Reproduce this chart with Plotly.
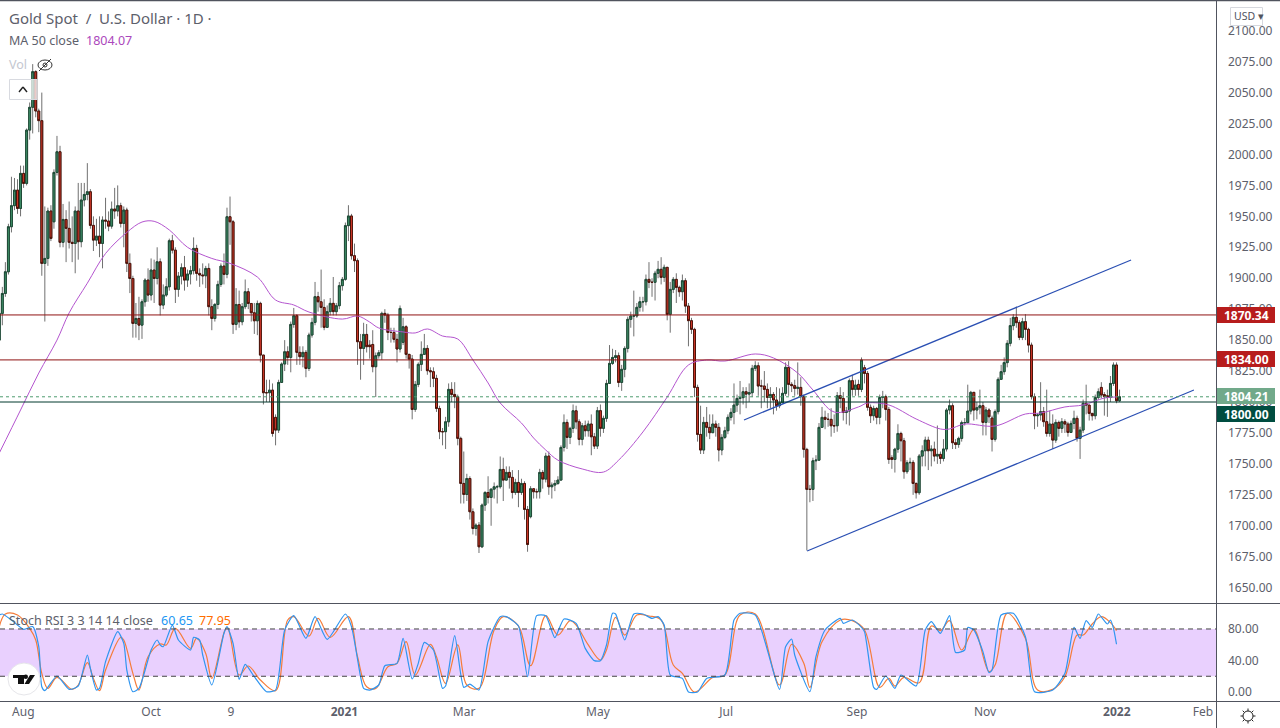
import math
import plotly.graph_objects as go

# ---- price bars
opens = [
1850,1871.6,1887.7,1905.2,1941.6,1958.6,1971.2,1956.4,1984.7,1976.6,
2019.7,2038.1,2066.9,2035.1,2027.3,1912,1916,1954.3,1945.6,1985.5,
2002.2,1929,1947.5,1940.3,1929,1928.1,1954.3,1929.5,1963.2,1967.7,
1969.9,1942.7,1930.8,1934,1928.1,1947,1946.2,1942.1,1955.9,1954.3,
1958.6,1944.3,1955.1,1912,1899.8,1863.5,1867.5,1862.1,1881,1898.5,
1886.4,1906.6,1899.8,1913.3,1878.3,1886.4,1893.1,1930.3,1922.7,1891,
1901.7,1908.5,1898.5,1903.4,1906.1,1924.1,1903.9,1902.6,1902,1907.9,
1877,1867.5,1878.8,1895,1909.8,1903.1,1949.7,1945.6,1862.7,1878.8,
1864.8,1877,1889.1,1879.6,1872.1,1865.6,1879.7,1837.9,1807.5,1807.5,
1809.6,1787.6,1777.3,1815.8,1830.7,1840.6,1836,1862.7,1869.7,1840.1,
1836.6,1840.1,1827.1,1854.1,1864.3,1885.1,1881,1876.4,1860.3,1873,
1879.7,1873,1877.8,1894,1899.1,1942.5,1950.3,1918.2,1914.2,1848.7,
1843.3,1854.6,1846,1846.5,1828.5,1837.4,1839.8,1871.6,1870.3,1856.2,
1856.2,1850.6,1842.8,1848.2,1860.8,1838.5,1834.7,1794,1814.2,
1830.4,1838.5,1843.3,1825.3,1824.5,1819.1,1794.8,1776,1776,1784,
1810.2,1806.1,1804.3,1770.6,1734.2,1725.3,1738.2,1711.3,1697.8,1700.5,
1683,1716.7,1726.9,1722.9,1729.6,1731.5,1731.5,1745.5,1736.9,1743.1,
1739.1,1726.9,1735,1726.9,1734.2,1713.2,1707.3,1729.9,1727.5,
1727.5,1743.1,1737.7,1756.3,1731.5,1732.9,1734.2,1736.9,1763.3,1783.5,
1771.4,1778.7,1792.9,1784,1769.8,1780.8,1776.8,1782.2,1771.9,1764.4,
1793,1778.7,1786.8,1815,1831.2,1836,1837.4,1815.8,1826.4,1843.3,
1866.8,1869.5,1869.5,1876.5,1881,1881,1899.1,1896.7,1896.7,1904,
1907.2,1900.7,1908.8,1870.8,1891,1899.1,1892.6,1889.1,1898,1877.5,
1865.7,1858.7,1811.8,1773.8,1761.2,1783.5,1779.5,1775.2,1782.2,
1779.5,1761.2,1771.4,1776.8,1787.6,1791.6,1797.5,1802.9,1803.5,1808.3,
1806.4,1807.5,1827.2,1829.3,1812.9,1812.9,1810.2,1803.7,1806.1,1801.6,
1797,1799.4,1807,1828,1814.2,1813.2,1811,1811.8,1804.3,1761.7,
1729.4,1729.4,1752.5,1753,1779.5,1787.6,1786,1786,1780.8,1780.8,
1805.1,1802.9,1791.6,1792.7,1817.2,1810.2,1814.2,1810.2,1827.7,
1823.1,1795.7,1788.9,1794.8,1787.6,1803.7,1804.3,1794,1755,1753.6,
1761.9,1774.6,1768.7,1743.7,1750.9,1751.2,1734.2,1726.7,1756.3,1760.6,
1769.2,1760.6,1762,1756.3,1757.7,1754.4,1762,1793.5,1797,1767.1,
1765.7,1770.6,1783.3,1783.3,1792.7,1807.8,1793.5,1795.4,1797,1783.5,
1793.5,1787,1769.8,1792.2,1818.3,1824.5,1831.8,1847.4,1861.7,1868.4,
1864.1,1852.2,1864.9,1858.7,1846,1804.3,1788.9,1789.5,1792.2,
1784.1,1774.6,1782.2,1769.2,1783.5,1778.7,1784.1,1782.2,1775.4,1782.7,
1786.8,1770.6,1777.3,1798.9,1797.5,1790.8,1788.9,1803.7,1811.8,1806,
1805,1803.7,1815,1829.9,1801,
]
closes = [
1871.6,1887.7,1905.2,1941.6,1958.6,1971.2,1956.4,1984.7,1976.6,2019.7,
2038.1,2066.9,2035.1,2027.3,1912,1916,1954.3,1932.2,1985.5,2002.2,
1929,1947.5,1940.3,1929,1928.1,1954.3,1929.5,1963.2,1967.7,1969.9,
1942.7,1930.8,1934,1928.1,1947,1946.2,1942.1,1955.9,1954.3,1958.6,
1944.3,1955.1,1912,1899.8,1863.5,1867.5,1862.1,1881,1898.5,1886.4,
1906.6,1899.8,1913.3,1878.3,1886.4,1893.1,1930.3,1922.7,1891,1901.7,
1908.5,1898.5,1903.4,1906.1,1924.1,1903.9,1902.6,1902,1907.9,1877,
1867.5,1878.8,1895,1909.8,1903.1,1949.7,1945.6,1862.7,1878.8,1864.8,
1877,1889.1,1879.6,1872.1,1865.6,1879.6,1837.9,1807.5,1807.5,1809.6,
1774.6,1777.3,1815.8,1830.7,1840.6,1836,1862.7,1869.7,1840.1,1836.6,
1840.1,1827.1,1854.1,1864.3,1885.1,1881,1876.4,1860.3,1873,1879.7,
1873,1877.8,1894,1899.1,1942.5,1950.3,1918.2,1914.2,1848.7,1843.3,
1854.6,1844.7,1844.7,1828.5,1837.4,1839.8,1871.6,1870.3,1856.2,1856.2,
1850.6,1842.8,1875.6,1860.8,1838.5,1834.7,1794,1814.2,1830.4,
1838.5,1843.3,1825.3,1824.5,1819.1,1794.8,1776,1776,1784,1810.2,
1806.1,1804.3,1770.6,1734.2,1725.3,1738.2,1711.3,1697.8,1700.5,1683,
1716.7,1726.9,1722.9,1729.6,1731.5,1731.5,1745.5,1736.9,1743.1,1739.1,
1726.9,1735,1726.9,1734.2,1713.2,1684.9,1729.9,1727.5,1727.5,
1743.1,1737.7,1756.3,1731.5,1732.9,1734.2,1736.9,1763.3,1783.5,1771.4,
1778.7,1792.9,1784,1769.8,1780.8,1776.8,1782.2,1771.9,1764.4,1793,
1778.7,1786.8,1815,1831.2,1836,1837.4,1815.8,1826.4,1843.3,1866.8,
1869.5,1869.5,1876.5,1881,1881,1899.1,1896.7,1896.7,1904,1907.2,
1900.7,1908.8,1870.8,1891,1899.1,1892.6,1889.1,1898,1877.5,1865.7,
1858.7,1811.8,1773.8,1761.2,1783.5,1779.5,1775.2,1782.2,1779.5,
1761.2,1771.4,1776.8,1787.6,1791.6,1797.5,1802.9,1803.5,1808.3,1806.4,
1807.5,1827.2,1829.3,1812.9,1812.9,1810.2,1803.7,1806.1,1801.6,1797,
1799.4,1807,1828,1814.2,1813.2,1811,1811.8,1804.3,1761.7,1729.4,
1729.4,1752.5,1753,1779.5,1787.6,1786,1786,1780.8,1780.8,1805.1,
1802.9,1791.6,1792.7,1817.2,1810.2,1813.7,1810.2,1833.9,1823.1,
1795.7,1788.9,1794.8,1787.6,1803.7,1804.3,1794,1753.6,1753.6,1761.9,
1774.6,1768.7,1743.7,1750.9,1751.2,1734.2,1726.7,1756.3,1760.6,1769.2,
1760.6,1762,1756.3,1757.7,1754.4,1762,1793.5,1797,1767.1,1765.7,
1770.6,1783.3,1783.3,1792.7,1807.8,1793.5,1795.4,1797,1783.5,1793.5,
1788.1,1769.8,1792.2,1818.3,1824.5,1831.8,1847.4,1861.7,1868.4,1864.1,
1852.2,1864.9,1858.7,1846,1804.3,1788.9,1789.5,1792.2,1784.1,
1774.6,1782.2,1769.2,1783.5,1778.7,1784.1,1782.2,1775.4,1782.7,1786.8,
1770.6,1777.3,1798.9,1797.5,1790.8,1788.9,1803.7,1808.3,1805.6,1804.3,
1803.7,1815,1829.9,1801,1804.2,
]
highs = [
1876,1893,1913,1944,1982,1981,1980,1991,1991,2021,
2042,2073,2068,2037,2050,1958,1957,1959,1988,2015,
2007,1960,1955,1962,1950,1958,1977,1977,1977,1993,
1972,1950,1948,1950,1950,1965,1954,1962,1973,1975,
1961,1958,1957,1920,1902,1880,1885,1883,1900,1908,
1916,1915,1925,1916,1895,1900,1932,1935,1925,1905,
1912,1918,1907,1910,1933,1927,1908,1912,1910,1912,
1883,1880,1898,1912,1920,1957,1966,1947,1892,1890,
1880,1899,1892,1880,1880,1882,1881,1838,1818,1818,
1815,1790,1818,1832,1850,1845,1865,1876,1871,1845,
1845,1842,1856,1868,1897,1889,1907,1883,1878,1884,
1901,1880,1897,1901,1945,1959,1952,1928,1916,1855,
1864,1863,1850,1858,1840,1842,1873,1875,1872,1860,
1860,1855,1878,1868,1862,1838,1838,1817,1832,
1849,1855,1846,1828,1828,1822,1797,1779,1788,1815,
1816,1816,1806,1772,1760,1742,1740,1714,1702,1703,
1718,1728,1740,1730,1735,1733,1756,1755,1748,1748,
1745,1738,1745,1738,1736,1716,1732,1730,1730,
1746,1745,1759,1760,1735,1737,1740,1765,1790,1786,
1780,1798,1797,1786,1783,1785,1785,1790,1775,1796,
1798,1789,1818,1846,1843,1842,1840,1830,1845,1869,
1873,1890,1880,1885,1885,1903,1913,1900,1906,1914,
1917,1911,1896,1897,1901,1904,1894,1903,1900,1880,
1868,1860,1814,1797,1788,1796,1790,1790,1785,
1783,1774,1780,1790,1795,1815,1806,1817,1812,1812,
1815,1830,1833,1832,1818,1825,1815,1812,1808,1812,
1811,1812,1832,1833,1816,1818,1832,1820,1806,1763,
1733,1755,1757,1783,1796,1793,1791,1795,1790,1808,
1812,1808,1796,1819,1822,1818,1818,1836,1830,
1825,1798,1797,1796,1806,1809,1806,1796,1757,1763,
1782,1776,1771,1753,1755,1753,1735,1758,1765,1772,
1772,1765,1768,1781,1760,1770,1795,1802,1799,1770,
1772,1785,1787,1814,1809,1808,1800,1810,1800,1796,
1795,1789,1794,1820,1830,1836,1850,1868,1871,1877,
1866,1868,1871,1860,1848,1807,1791,1816,1796,
1810,1793,1790,1786,1785,1787,1786,1784,1785,1793,
1789,1780,1802,1814,1793,1791,1806,1811,1816,1808,
1810,1821,1832,1832,1810,
]
lows = [
1845,1862,1885,1903,1937,1955,1952,1950,1973,1975,
2012,2017,2030,2018,1902,1865,1910,1930,1940,1983,
1925,1925,1913,1924,1913,1904,1915,1925,1958,1963,
1940,1922,1926,1917,1908,1940,1938,1940,1948,1950,
1941,1925,1905,1888,1852,1852,1850,1851,1877,1881,
1882,1880,1895,1870,1875,1885,1890,1920,1880,1885,
1895,1890,1893,1895,1903,1898,1893,1895,1892,1870,
1858,1865,1875,1893,1895,1900,1927,1855,1858,1860,
1862,1875,1875,1865,1855,1854,1832,1798,1800,1800,
1772,1765,1775,1823,1825,1830,1824,1860,1830,1830,
1828,1820,1825,1852,1862,1873,1860,1858,1862,1870,
1870,1870,1875,1890,1898,1930,1915,1905,1830,1818,
1830,1840,1835,1824,1804,1835,1834,1864,1850,1848,
1848,1832,1840,1846,1835,1827,1786,1792,1812,
1825,1838,1822,1812,1812,1792,1770,1765,1762,1780,
1800,1795,1765,1718,1718,1720,1705,1693,1692,1678,
1682,1712,1718,1700,1722,1718,1730,1720,1738,1730,
1722,1725,1715,1725,1705,1679,1706,1722,1722,
1722,1730,1735,1725,1722,1728,1733,1760,1760,1762,
1766,1775,1778,1765,1765,1772,1772,1757,1762,1762,
1772,1775,1784,1828,1830,1832,1812,1809,1820,1840,
1860,1853,1868,1873,1873,1878,1892,1885,1882,1900,
1895,1897,1866,1856,1888,1880,1885,1882,1872,1845,
1855,1804,1768,1758,1758,1772,1770,1778,1772,
1752,1757,1770,1774,1785,1782,1792,1790,1798,1795,
1800,1804,1825,1805,1795,1800,1795,1795,1790,1793,
1795,1800,1805,1805,1808,1805,1806,1797,1755,1680,
1719,1720,1745,1775,1780,1778,1780,1772,1775,1776,
1795,1785,1782,1781,1805,1805,1805,1808,1815,
1793,1783,1785,1782,1782,1795,1785,1750,1746,1743,
1759,1752,1738,1742,1745,1725,1722,1725,1748,1748,
1745,1748,1752,1750,1750,1752,1760,1790,1762,1762,
1763,1768,1781,1785,1790,1785,1786,1790,1773,1773,
1783,1760,1768,1790,1820,1822,1828,1845,1858,1860,
1850,1850,1850,1840,1802,1778,1780,1785,1780,
1772,1772,1762,1767,1772,1775,1775,1772,1775,1778,
1768,1754,1775,1790,1785,1785,1786,1802,1803,1789,
1788,1800,1813,1799,1800,
]

# ---- MA 50 close, (bar number, value)
ma_bars = [0,7,13,19,23,29,35,42,47,51,56,62,70,76,85,91,97,102,113,118,122,125,133,137,141,146,151,156,161,165,172,176,180,184,192,199,204,212,220,227,233,239,249,255,263,268,275,283,286,293,302,310,313,318,328,338,343,351,357,364,368]
ma_vals = [1758.8,1793.5,1823.4,1850,1872,1896,1920,1937,1945.4,1946,1939,1925,1916,1912,1901,1882.4,1878.4,1872.7,1867,1869.5,1864.6,1859.8,1856.6,1855.8,1859,1853.3,1850.9,1834,1815.4,1799.2,1783,1770.9,1761.2,1753,1745.9,1743.4,1753,1775.8,1804,1829.9,1833.9,1833.1,1838.8,1835.6,1823.4,1809.7,1791.9,1796,1799.2,1797.6,1786.3,1778.2,1778.2,1782.2,1780.6,1790.3,1791.1,1796,1797.6,1803.2,1804.1]

# ---- Stoch RSI, k = blue, d = orange
k_bars = [0,1,4,8,11,13,14,15,19,23,26,29,30,32,33,35,39,41,42,44,46,50,52,53,54,57,59,63,64,66,67,70,74,75,77,79,81,84,88,91,94,97,101,104,108,114,116,119,120,122,125,127,131,133,136,138,140,143,146,147,150,153,155,158,161,165,167,171,174,177,180,183,186,190,193,196,198,200,202,203,206,209,212,215,217,219,221,225,227,230,233,239,242,244,249,257,259,261,262,267,269,272,277,278,281,284,285,288,289,292,295,297,302,305,307,310,313,315,318,319,321,324,326,327,330,334,338,341,347,351,354,356,358,360,362,365,366,367,368]
k_vals = [97.7,99,91.4,79.5,83,57.5,6.7,1.7,20.3,3.4,7.6,47,30,2.5,4.6,38.5,76.6,61.8,27.9,0.4,4.6,53.3,66,59.7,57.5,85,66,53.3,69.4,66,47,8.9,74.5,83,61.8,16,35,19.4,0.4,2.5,78.7,96.9,68,95.6,66.8,99,83,19.4,4.6,2.5,8.9,33.4,36.4,68,16.5,36.4,63,53.3,4.6,7.6,71.5,5.9,10.1,2.5,63.9,95.6,95.6,83.8,19.4,96.9,96.9,69,92.7,87.2,55.4,39.8,39.8,59.7,99.9,99,66,99,99,93.5,95.6,85,21.6,17.3,0,0,17.3,21.6,91.4,99.9,97.7,3.4,57.5,67.3,47,0.4,44.8,78.7,93.5,87.2,91.4,82,76.6,5.9,3.4,20.3,4.6,21.6,7.6,78.7,89.3,74.5,96.9,50.3,53.3,82,78.7,51.2,24.5,27.9,97.7,99.9,70.2,0.4,2.5,23.7,82,68,90.6,82,99,86.3,91.4,80.8,60.65]
d_bars = [0,2,6,10,12,14,16,19,24,26,29,31,33,35,40,41,44,46,49,53,55,58,63,65,68,70,75,79,82,86,91,95,97,102,105,109,115,118,121,124,128,131,134,137,142,144,147,151,154,158,163,166,171,175,180,184,188,190,194,198,200,203,206,210,214,218,222,225,229,235,239,244,249,257,261,265,267,271,277,281,285,290,293,295,298,303,307,310,313,317,321,326,328,332,338,342,347,351,355,357,360,363,366,368]
d_vals = [83,99,97.7,80.8,66,23.7,4.6,18.6,3.4,8.9,37.2,17.3,1.7,27.9,69.4,66,23.7,2.5,44.8,60.9,59.7,80.8,55.4,68,49,17.3,82,21.6,33,15.2,1.7,91.4,95.6,71,93.5,69.4,95.6,44.8,6.7,4.6,32,36.4,63.9,21.6,60.5,44.8,11,59.7,8.9,4.6,78.7,95.6,83.8,33.4,96.9,72.3,90.6,85,59.7,40.6,53.3,94.8,72.3,97.7,96.5,91.4,34.3,23.7,0,18.6,21.6,97.7,99,8.9,60.5,36.4,5.9,63.9,91.4,90.6,78.7,5.9,17.3,7.6,18.6,11.8,83.8,77.9,90.6,53.3,79.5,25.8,34.3,99.9,68,2.5,3.4,19.4,72.3,72.3,86.3,95.6,88,77.95]

# ---- trend channel
upper_bars = [245.3, 372.8]
upper_vals = [1785.5, 1914.7]
lower_bars = [266.1, 393.5]
lower_vals = [1679.6, 1809.7]

# ---- axis
tick_pos = [7.9, 50, 76.3, 113.7, 153.1, 197.2, 239.4, 282.5, 324.7, 368.1, 396.5]
tick_txt = ['Aug', 'Oct', '9', '<b>2021</b>', 'Mar', 'May', 'Jul', 'Sep', 'Nov', '<b>2022</b>', 'Feb']
price_ticks = list(range(1650, 2125, 25))
stoch_ticks = [0, 40, 80]

FONT = 'Noto Sans'
TXT = '#5d606b'

bars = list(range(len(closes)))
body_top = [max(o, c) for o, c in zip(opens, closes)]
body_bot = [min(o, c) for o, c in zip(opens, closes)]
print(len(opens), len(closes), len(highs), len(lows))

W, H = 1217, 701
def px(x):
    return x / W
def py(y):
    return (H - y) / H

fig = go.Figure()

# wicks
fig.add_trace(go.Candlestick(x=bars, open=opens, high=highs, low=lows, close=closes,
                             increasing=dict(line=dict(color='#707070', width=1), fillcolor='#707070'),
                             decreasing=dict(line=dict(color='#707070', width=1), fillcolor='#707070'),
                             whiskerwidth=0, hoverinfo='skip', showlegend=False))
# bodies
fig.add_trace(go.Candlestick(x=bars, open=opens, high=body_top, low=body_bot, close=closes,
                             increasing=dict(line=dict(color='#1d4a36', width=1), fillcolor='#3f8f68'),
                             decreasing=dict(line=dict(color='#4a1208', width=1), fillcolor='#d6392a'),
                             whiskerwidth=0, hoverinfo='skip', showlegend=False))
fig.add_trace(go.Scatter(x=ma_bars, y=ma_vals, mode='lines',
                         line=dict(color='#b455cf', width=1, shape='spline'), hoverinfo='skip', showlegend=False))
fig.add_trace(go.Scatter(x=upper_bars, y=upper_vals, mode='lines',
                         line=dict(color='#2a4fb3', width=1.2), hoverinfo='skip', showlegend=False))
fig.add_trace(go.Scatter(x=lower_bars, y=lower_vals, mode='lines',
                         line=dict(color='#2a4fb3', width=1.2), hoverinfo='skip', showlegend=False))
fig.add_trace(go.Scatter(x=d_bars, y=d_vals, mode='lines', xaxis='x2', yaxis='y2',
                         line=dict(color='#f57c3a', width=1.2, shape='spline'), hoverinfo='skip', showlegend=False))
fig.add_trace(go.Scatter(x=k_bars, y=k_vals, mode='lines', xaxis='x2', yaxis='y2',
                         line=dict(color='#2f95f0', width=1.2, shape='spline', smoothing=0.6), hoverinfo='skip', showlegend=False))

shapes = []
def hline(val, color, dash='solid'):
    shapes.append(dict(type='line', xref='paper', yref='y', x0=0, x1=1, y0=val, y1=val,
                       line=dict(color=color, width=1, dash=dash)))
hline(1870.34, '#8f1212')
hline(1834, '#8f1212')
hline(1804.21, '#4f9c70', 'dot')
hline(1800, '#00382c')

# stoch band
shapes.append(dict(type='rect', xref='paper', yref='y2', x0=0, x1=1, y0=20, y1=80,
                   fillcolor='#e9d0fe', line=dict(width=0), layer='below'))
for v in [20, 80]:
    shapes.append(dict(type='line', xref='paper', yref='y2', x0=0, x1=1, y0=v, y1=v,
                       line=dict(color='#444444', width=1, dash='5px,4px')))

# frame
def frame(x0, y0, x1, y1, color='#50535e', width=1):
    shapes.append(dict(type='line', xref='paper', yref='paper', x0=px(x0), x1=px(x1), y0=py(y0), y1=py(y1),
                       line=dict(color=color, width=width)))
frame(0, 0.5, 1280, 0.5, width=1.5)
frame(0, 603.5, 1280, 603.5)
frame(0, 701.5, 1280, 701.5)
frame(1216.5, 0, 1216.5, 728)

def box(x0, y0, x1, y1, fill, line=None, kind='rect'):
    shapes.append(dict(type=kind, xref='paper', yref='paper', x0=px(x0), x1=px(x1), y0=py(y0), y1=py(y1),
                       fillcolor=fill, line=dict(color=line or fill, width=1 if line else 0)))

# price tags
tags = [(1870.34, 315, '#b71c1c'), (1834.00, 359, '#b71c1c'), (1804.21, 396, '#71a98a'), (1800.00, 414, '#004d40')]
for _, yy, col in tags:
    box(1217, yy - 8, 1275, yy + 8, col)

# button and icons
box(9.5, 79.5, 37, 99.5, 'rgba(255,255,255,0.75)', '#d8dae0')
frame(19, 92, 23, 87, '#222222', 1.4)
frame(23, 87, 27, 92, '#222222', 1.4)
box(38, 60, 52, 70, 'rgba(0,0,0,0)', '#333333', 'circle')
box(43, 63, 47, 67, 'rgba(0,0,0,0)', '#333333', 'circle')
frame(39, 71, 51, 59, '#333333', 1)
box(8, 663, 40, 695, '#ffffff', '#e6e6ea', 'circle')
box(13, 675, 24, 678, '#111111')
box(18, 675, 24, 684, '#111111')
box(23.5, 674.5, 28, 679, '#111111', None, 'circle')
shapes.append(dict(type='path', xref='paper', yref='paper', fillcolor='#111111', line=dict(width=0),
                   path=f'M {px(30)} {py(675)} L {px(35)} {py(675)} L {px(29)} {py(684)} L {px(24.5)} {py(684)} Z'))

# usd box
box(1230.5, 7.5, 1262.5, 25.5, '#ffffff', '#d6d8de')
# gear
box(1243, 711, 1253, 721, 'rgba(0,0,0,0)', '#222222', 'circle')
for a in range(0, 360, 45):
    c, s = math.cos(math.radians(a)), math.sin(math.radians(a))
    frame(1248 + 5 * c, 716 + 5 * s, 1248 + 7.5 * c, 716 + 7.5 * s, '#222222', 1)

notes = []
def text(x, y, txt, color=TXT, size=12.5, anchor='left'):
    notes.append(dict(xref='paper', yref='paper', x=px(x - 2), y=py(y), text=txt, showarrow=False,
                      xanchor=anchor, yanchor='middle', font=dict(family=FONT, size=size, color=color)))
text(9, 18, 'Gold Spot  /  U.S. Dollar · 1D ·', size=15)
text(9, 41, 'MA 50 close', size=12.5)
text(86, 41, '1804.07', '#ab47bc', 12.5)
text(9, 65, 'Vol', '#c4c7d0', 12.5)
text(9, 620, 'Stoch RSI 3 3 14 14 close', size=12.5)
text(161, 620, '60.65', '#2196f3', 12.5)
text(199, 620, '77.95', '#ff6d00', 12.5)
text(1234, 16, 'USD ▾', '#50535e', 10.5)
for val, yy, _ in tags:
    notes.append(dict(xref='paper', yref='paper', x=px(1247), y=py(yy), text=f'<b>{val:.2f}</b>', showarrow=False,
                      xanchor='center', yanchor='middle', font=dict(family=FONT, size=12, color='#ffffff')))

x_range = [0.23, 401.1]
fig.update_layout(
    width=1280, height=728,
    margin=dict(l=0, r=63, t=0, b=27, pad=0),
    paper_bgcolor='#ffffff', plot_bgcolor='#ffffff',
    showlegend=False,
    boxgap=0.1,
    font=dict(family=FONT, color=TXT, size=12),
    shapes=shapes, annotations=notes,
    xaxis=dict(range=x_range, domain=[0, 1], anchor='y', showgrid=False, showticklabels=False,
               zeroline=False, rangeslider=dict(visible=False)),
    xaxis2=dict(range=x_range, domain=[0, 1], anchor='y2', showgrid=False, zeroline=False,
                tickmode='array', tickvals=tick_pos, ticktext=tick_txt, ticks='', ticklabelstandoff=2,
                tickangle=0, tickfont=dict(family=FONT, size=12, color=TXT)),
    yaxis=dict(range=[1637.6, 2124.8], domain=[98 / 701, 1], anchor='x', side='right', showgrid=False,
               zeroline=False, tickmode='array', tickvals=price_ticks, tickformat='.2f', ticks='',
               ticklabelstandoff=10, tickfont=dict(family=FONT, size=12, color=TXT)),
    yaxis2=dict(range=[-11.4, 111.7], domain=[0, 97 / 701], anchor='x2', side='right', showgrid=False,
                zeroline=False, tickmode='array', tickvals=stoch_ticks, tickformat='.2f', ticks='',
                ticklabelstandoff=10, tickfont=dict(family=FONT, size=12, color=TXT)),
)

# page has a default 8px body margin, the chart has to start at the corner
fig.write_html("out.html", config={'displayModeBar': False}, post_script="document.body.style.margin='0';")
